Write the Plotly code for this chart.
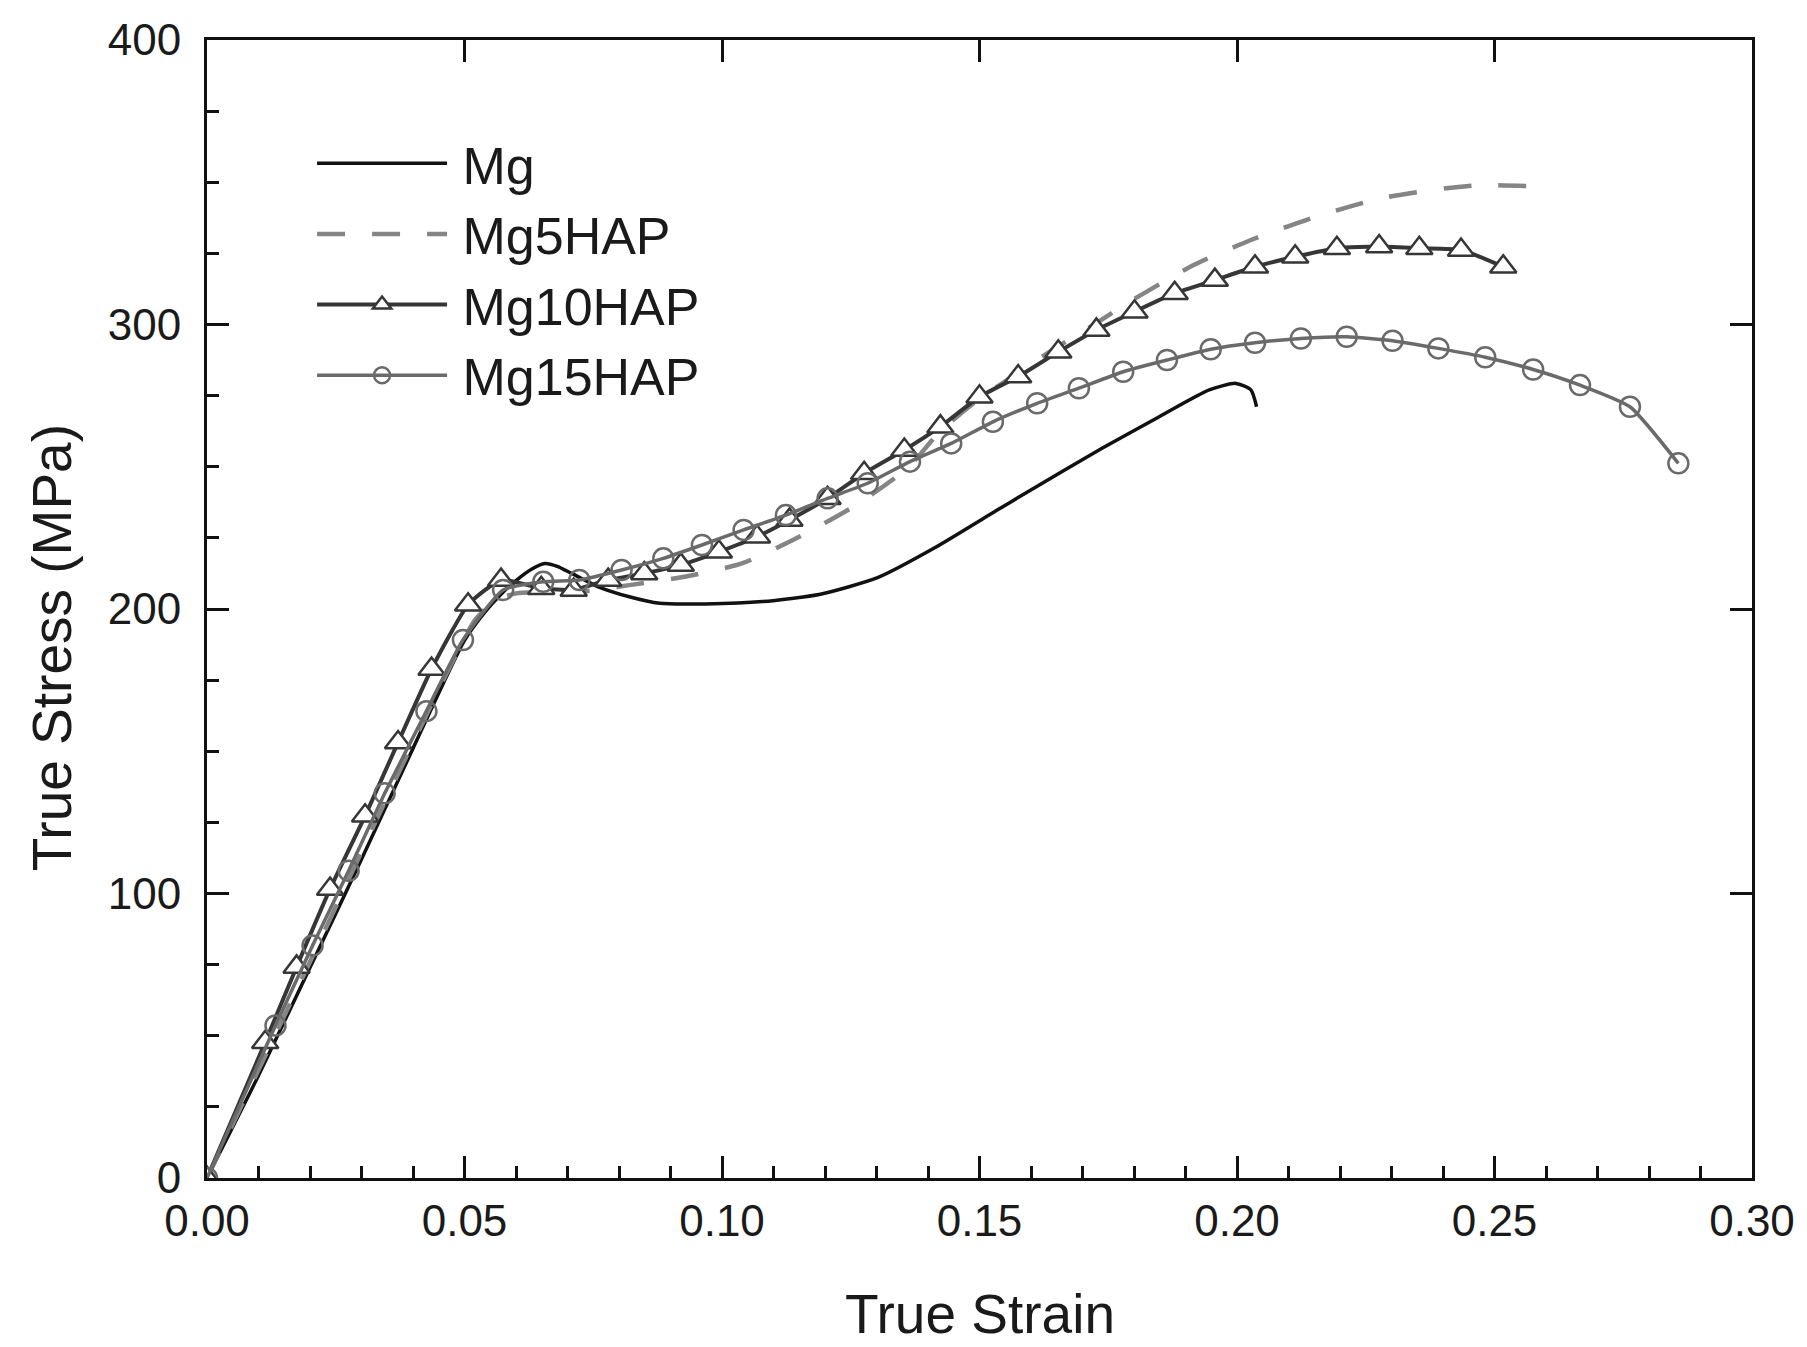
import plotly.graph_objects as go

# ---------------- data ----------------
mg_strain = [0.0, 0.010, 0.020, 0.030, 0.040, 0.050, 0.054, 0.057, 0.060, 0.063, 0.0656, 0.068,
             0.0708, 0.076, 0.082, 0.0879, 0.0968, 0.1079, 0.1191, 0.1302, 0.1413, 0.1532,
             0.1589, 0.1738, 0.1849, 0.1946, 0.1998, 0.2027, 0.2038]
mg_stress = [0, 36, 74, 112, 151, 189, 199, 205, 210, 214, 216, 215,
             212.5, 207.8, 204.3, 202, 201.8, 202.6, 205.2, 211, 221.5, 234.5,
             240.7, 256.5, 267.6, 277, 279.3, 277, 271.1]

mg5_strain = [0.0, 0.020, 0.040, 0.052, 0.056, 0.060, 0.066, 0.072, 0.077, 0.082, 0.093, 0.104,
              0.115, 0.126, 0.136, 0.1424, 0.150, 0.1575, 0.165, 0.1727, 0.1797, 0.1916,
              0.2027, 0.2153, 0.228, 0.2406, 0.2473, 0.2599]
mg5_stress = [0, 76, 153, 196, 203, 205.5, 206, 206, 207, 208.4, 211.4, 216.1,
              225.4, 236.5, 249.5, 262.5, 274, 283, 292, 300.5, 308.6, 320.9,
              329.7, 337.9, 344.4, 347.9, 349, 348.4]

mg10_strain = [0.0, 0.0113, 0.0174, 0.0239, 0.0307, 0.0371, 0.0436, 0.0507, 0.0571, 0.0649,
               0.0712, 0.0779, 0.0849, 0.0920, 0.0994, 0.1068, 0.1131, 0.1205, 0.1276, 0.1354,
               0.1424, 0.1500, 0.1575, 0.1653, 0.1727, 0.1801, 0.1879, 0.1957, 0.2035, 0.2113,
               0.2194, 0.2276, 0.2354, 0.2435, 0.2517]
mg10_stress = [0, 47.7, 74.2, 101.6, 127.3, 153.1, 178.9, 201.5, 210.2, 207.3,
               206.7, 210.2, 212.5, 215.5, 220.1, 225.4, 231.3, 238.9, 247.7, 255.9,
               264.1, 274.6, 281.7, 290.4, 298.1, 304.5, 311.0, 315.6, 320.3, 323.8,
               326.8, 327.4, 326.8, 326.2, 320.3]

mg15_strain = [0.0, 0.0133, 0.0205, 0.0275, 0.0345, 0.0426, 0.0497, 0.0575, 0.0653, 0.0723,
               0.0805, 0.0886, 0.0961, 0.1042, 0.1124, 0.1205, 0.1283, 0.1365, 0.1445, 0.1526,
               0.1612, 0.1693, 0.1779, 0.1864, 0.1949, 0.2035, 0.2124, 0.2213, 0.2302, 0.2391,
               0.2482, 0.2575, 0.2666, 0.2763, 0.2857]
mg15_stress = [0, 53.6, 81.7, 108, 135.2, 164.1, 189.1, 206.7, 209.6, 210.2,
               213.7, 217.8, 222.5, 227.8, 233, 238.9, 244.2, 251.8, 258.2, 265.8,
               272.3, 277.6, 283.4, 287.5, 291.3, 293.6, 295.1, 295.7, 294.3, 291.6,
               288.5, 284.2, 278.7, 271.1, 251.2]

series_names = ["Mg", "Mg5HAP", "Mg10HAP", "Mg15HAP"]

x_ticks = [0.00, 0.05, 0.10, 0.15, 0.20, 0.25, 0.30]
x_tick_labels = ["0.00", "0.05", "0.10", "0.15", "0.20", "0.25", "0.30"]
y_ticks = [0, 100, 200, 300, 400]
y_tick_labels = ["0", "100", "200", "300", "400"]

# ---------------- figure ----------------
fig = go.Figure()

# a thin space in front of each legend name widens the gap between sample and text
def leg(name):
    return "\u2009" + name

fig.add_trace(go.Scatter(
    x=mg_strain, y=mg_stress, name=leg(series_names[0]), mode="lines",
    line=dict(color="#111111", width=3.5, shape="spline", smoothing=0.6)))

fig.add_trace(go.Scatter(
    x=mg5_strain, y=mg5_stress, name=leg(series_names[1]), mode="lines",
    line=dict(color="#858585", width=4.5, dash="28px,27px", shape="spline", smoothing=0.6)))

fig.add_trace(go.Scatter(
    x=mg10_strain, y=mg10_stress, name=leg(series_names[2]), mode="lines+markers",
    line=dict(color="#363636", width=4, shape="spline", smoothing=0.5),
    marker=dict(symbol="triangle-up", size=23, color="white",
                line=dict(color="#363636", width=2.5))))

fig.add_trace(go.Scatter(
    x=mg15_strain, y=mg15_stress, name=leg(series_names[3]), mode="lines+markers",
    line=dict(color="#6a6a6a", width=3.5, shape="spline", smoothing=0.5),
    marker=dict(symbol="circle-open", size=20, color="#6a6a6a",
                line=dict(color="#6a6a6a", width=2.5))))

tick_font = dict(family="Liberation Sans, Arial, sans-serif", size=44, color="#1a1a1a")
title_font = dict(family="Liberation Sans, Arial, sans-serif", size=55, color="#1a1a1a")

fig.update_layout(
    width=1807, height=1347,
    margin=dict(l=207, r=53, t=40, b=169),
    paper_bgcolor="white", plot_bgcolor="white",
    showlegend=True,
    legend=dict(x=0.068, y=0.927, xanchor="left", yanchor="top",
                bgcolor="rgba(0,0,0,0)", borderwidth=0,
                font=dict(family="Liberation Sans, Arial, sans-serif", size=52, color="#1a1a1a"),
                itemwidth=130, tracegroupgap=0),
    xaxis=dict(range=[0, 0.30], tickvals=x_ticks, ticktext=x_tick_labels,
               ticks="inside", ticklen=22, tickwidth=3, tickcolor="#111",
               showline=True, linewidth=3, linecolor="#111", mirror=True,
               showgrid=False, zeroline=False, tickfont=tick_font, ticklabelstandoff=2,
               minor=dict(dtick=0.01, ticks="inside", ticklen=12, tickwidth=3,
                          tickcolor="#111", showgrid=False)),
    yaxis=dict(range=[0, 400], tickvals=y_ticks, ticktext=y_tick_labels,
               ticks="inside", ticklen=22, tickwidth=3, tickcolor="#111",
               showline=True, linewidth=3, linecolor="#111", mirror=True,
               showgrid=False, zeroline=False, tickfont=tick_font, ticklabelstandoff=14,
               minor=dict(dtick=25, ticks="inside", ticklen=12, tickwidth=3,
                          tickcolor="#111", showgrid=False)),
    xaxis2=dict(range=[0, 0.30], overlaying="x", side="top", anchor="y",
                tickvals=x_ticks, ticks="inside", ticklen=22, tickwidth=3,
                tickcolor="#111", showticklabels=False, showgrid=False,
                zeroline=False, showline=False),
    yaxis2=dict(range=[0, 400], overlaying="y", side="right", anchor="x",
                tickvals=y_ticks, ticks="inside", ticklen=22, tickwidth=3,
                tickcolor="#111", showticklabels=False, showgrid=False,
                zeroline=False, showline=False),
    annotations=[
        dict(text="True Strain", xref="paper", yref="paper", x=0.5, y=-0.1195,
             xanchor="center", yanchor="middle", showarrow=False, font=title_font),
        dict(text="True Stress (MPa)", xref="paper", yref="paper", x=-0.1002, y=0.4657,
             xanchor="center", yanchor="middle", textangle=-90, showarrow=False,
             font=title_font),
    ],
)

# invisible trace so the mirrored tick axes are rendered
fig.add_trace(go.Scatter(x=[None], y=[None], xaxis="x2", yaxis="y2",
                         showlegend=False, hoverinfo="skip"))

fig.write_html("out.html")
